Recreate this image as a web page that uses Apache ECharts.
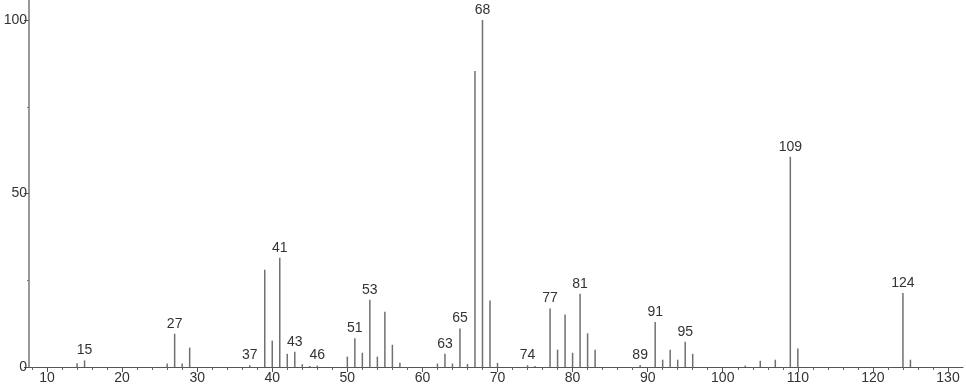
<!DOCTYPE html>
<html><head><meta charset="utf-8">
<script src="https://cdn.jsdelivr.net/npm/echarts@6/dist/echarts.min.js"></script>
<style>html,body{margin:0;padding:0;background:#fff}#c{width:966px;height:389px}</style>
</head><body><div id="c"></div>
<script>
const mz = [14,15,26,27,28,29,37,39,40,41,42,43,44,45,46,50,51,52,53,54,55,56,57,62,63,64,65,66,67,68,69,70,74,75,77,78,79,80,81,82,83,89,91,92,93,94,95,96,103,105,107,109,110,124,125];
const intensity = [1.1,1.9,1.0,9.6,1.0,5.6,0.5,28.0,7.6,31.5,3.8,4.4,0.8,0.3,0.4,3.0,8.3,4.1,19.4,3.0,15.9,6.4,1.2,1.0,3.8,1.0,11.1,0.9,85.3,100,19.2,1.2,0.5,0.3,16.9,5.0,15.1,4.1,21.1,9.7,5.0,0.6,13.0,2.1,5.0,2.1,7.3,3.8,0.4,1.8,2.1,60.6,5.3,21.3,2.1];
const labeledPeaks = [15,27,37,41,43,46,51,53,63,65,68,74,77,81,89,91,95,109,124];
const xTickLabels = [10,20,30,40,50,60,70,80,90,100,110,120,130];
const xMinorTicks = [8,12,14,16,18,22,24,26,28,32,34,36,38,42,44,46,48,52,54,56,58,62,64,66,68,72,74,76,78,82,84,86,88,92,94,96,98,102,104,106,108,112,114,116,118,122,124,126,128];
const yTickLabels = [0,50,100];
const yMinorTicks = [25,75];

const FONT = 'Liberation Sans';
const data = mz.map((m,i)=>{
  const item = {value:[m,intensity[i]]};
  if (labeledPeaks.includes(m)) item.label = {show:true};
  return item;
});
const chart = echarts.init(document.getElementById('c'), null, {renderer:'canvas'});
const xBase = {type:'value', min:7.6, max:132, splitLine:{show:false}};
const yBase = {type:'value', min:0, max:105.8, splitLine:{show:false}};
chart.setOption({
  animation:false,
  backgroundColor:'#fff',
  grid:{left:29, right:3, top:0, bottom:22, containLabel:false},
  xAxis:[
    Object.assign({}, xBase, {
      axisLine:{lineStyle:{color:'#555', width:1}},
      axisTick:{customValues:xTickLabels, length:5, lineStyle:{color:'#555'}},
      axisLabel:{customValues:xTickLabels, color:'#333', fontFamily:FONT, fontSize:14, margin:4}
    }),
    Object.assign({}, xBase, {position:'bottom',
      axisLine:{show:false},
      axisTick:{customValues:xMinorTicks, length:3, lineStyle:{color:'#666'}},
      axisLabel:{show:false}
    })
  ],
  yAxis:[
    Object.assign({}, yBase, {
      axisLine:{show:true, lineStyle:{color:'#999', width:2}},
      axisTick:{show:true, customValues:yTickLabels, length:5, lineStyle:{color:'#555'}},
      axisLabel:{customValues:yTickLabels, color:'#333', fontFamily:FONT, fontSize:14, margin:2}
    }),
    Object.assign({}, yBase, {position:'left',
      axisLine:{show:false},
      axisTick:{show:true, customValues:yMinorTicks, length:2, lineStyle:{color:'#777'}},
      axisLabel:{show:false}
    })
  ],
  series:[{
    type:'bar',
    xAxisIndex:0, yAxisIndex:0,
    data:data,
    barWidth:1.5,
    itemStyle:{color:'#707070'},
    label:{show:false, position:'top', distance:3, color:'#333', fontFamily:FONT, fontSize:14,
      formatter:p=>String(p.value[0])}
  }]
});
</script></body></html>
